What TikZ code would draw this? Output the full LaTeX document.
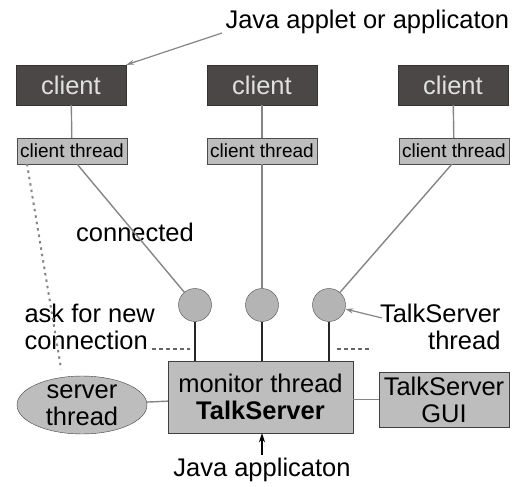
\documentclass[tikz,border=0pt]{standalone}
\usepackage{fontspec}
\setmainfont{Liberation Sans}
\usetikzlibrary{shapes.geometric,arrows.meta}
\definecolor{clientfill}{HTML}{4B4747}
\definecolor{lightfill}{HTML}{BDBDBD}
\definecolor{edgegray}{HTML}{858585}
\tikzset{
  client/.style={draw=black!80, fill=clientfill, text=white!88!black, minimum width=110pt, minimum height=40pt, inner sep=0pt, font=\fontsize{25.5}{27}\selectfont},
  cthread/.style={draw=black!70, fill=lightfill, minimum width=110pt, minimum height=26pt, inner sep=0pt, font=\fontsize{19}{21}\selectfont},
  tsthread/.style={draw=black!70, fill=lightfill!95!black, circle, minimum size=33pt, inner sep=0pt},
  big/.style={font=\fontsize{25.5}{27}\selectfont, align=center},
  link/.style={draw=edgegray, line width=1.4pt},
  stem/.style={draw=black!85, line width=2.4pt},
}
\begin{document}
\begin{tikzpicture}[x=1pt, y=-1pt]
  \useasboundingbox (0,0) rectangle (515,487);
  \node[client] (c1) at (71,85) {client}; % left
  \node[client] (c2) at (262,85) {client}; % middle
  \node[client] (c3) at (453,85) {client}; % right
  \node[cthread] (ct1) at (72,151) {client thread};
  \node[cthread] (ct2) at (262,151) {client thread};
  \node[cthread] (ct3) at (454,151) {client thread};
  \node[tsthread] (t1) at (195,305) {};
  \node[tsthread] (t2) at (262,305) {};
  \node[tsthread] (t3) at (329,305) {};
  \node[big, draw=black!75, fill=lightfill, minimum width=185pt, minimum height=72pt, inner sep=0pt] (mon) at (260.5,397) {monitor thread\\\textbf{TalkServer}};
  \node[big, draw=black!75, fill=lightfill, minimum width=130pt, minimum height=55pt, inner sep=0pt] (gui) at (444,399.5) {TalkServer\\GUI};
  \node[big, draw=black!75, fill=lightfill, ellipse, minimum width=130pt, minimum height=56pt, inner sep=0pt] (srv) at (82,405) {server\\thread};
  \node[big, anchor=west] (applet) at (222,22) {Java applet or applicaton}; % top
  \node[big] (conn) at (135,232) {connected};
  \node[big, align=left, anchor=west] (ask) at (21,327) {ask for new\\connection};
  \node[big, align=right, anchor=east] (tslabel) at (504,327) {TalkServer\\thread};
  \node[big] (app) at (262,470) {Java applicaton}; % bottom
  \coordinate (ct1a) at (77,164);
  \coordinate (ct1b) at (27,164);
  \coordinate (ct3a) at (452,164);
  \draw[link] (c1) -- (ct1);
  \draw[link] (c2) -- (ct2);
  \draw[link] (c3) -- (ct3);
  \draw[link] (ct1a) -- (t1);
  \draw[link] (ct2) -- (t2);
  \draw[link] (ct3a) -- (t3);
  \draw[stem] (t1) -- (t1 |- mon.north);
  \draw[stem] (t2) -- (t2 |- mon.north);
  \draw[stem] (t3) -- (t3 |- mon.north);
  \draw[link] (srv) -- (mon);
  \draw[link] (mon.east |- gui) -- (gui);
  \draw[draw=edgegray, line width=2pt, dash pattern=on 2.5pt off 4pt, shorten >=8pt] (ct1b) -- (srv.125);
  \draw[draw=black!60, line width=1.2pt, dash pattern=on 4pt off 3pt] (152,349) -- (190,349);
  \draw[draw=black!60, line width=1.2pt, dash pattern=on 4pt off 3pt] (337,349) -- (372,349);
  \draw[edgegray, line width=1.2pt, -{Stealth[length=8pt, width=5pt]}] (applet.west |- 0,33) -- (c1.north east);
  \draw[edgegray, line width=1.2pt, -{Stealth[length=8pt, width=5pt]}] (382,318) -- (t3);
  \draw[black, line width=1.5pt, -{Stealth[length=9pt, width=6pt]}] (app.north) -- (app.north |- mon.south);
\end{tikzpicture}
\end{document}
